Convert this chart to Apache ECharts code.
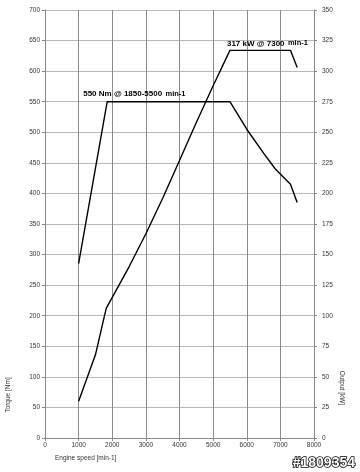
<!DOCTYPE html>
<html><head><meta charset="utf-8">
<script src="https://cdn.jsdelivr.net/npm/echarts@6/dist/echarts.min.js"></script>
<style>html,body{margin:0;padding:0;background:#fff}#c{width:360px;height:472px}</style>
</head><body><div id="c"></div>
<script>
var torqueRpm = [1000, 1850, 5500, 6000, 6500, 6850, 7300, 7500];
var torqueNm  = [285, 550, 550, 505, 466, 440, 415, 385];
var powerRpm  = [1000, 1500, 1820, 2500, 3000, 3500, 4000, 4500, 5000, 5500, 7300, 7500];
var powerKw   = [30, 68, 106, 140, 167, 196, 227, 258, 288, 317, 317, 303];
var torqueLabel = '550 Nm @ 1850-5500 min-1';
var powerLabel = '317 kW @ 7300 min-1';
var xTitle = 'Engine speed [min-1]';
var yLeftTitle = 'Torque [Nm]';
var yRightTitle = 'Output [kW]';
var watermark = '#1809354';

function zip(a, b) { return a.map(function (v, i) { return [v, b[i]]; }); }

var chart = echarts.init(document.getElementById('c'), null, {renderer: 'canvas'});
var font = 'Liberation Sans, Arial, sans-serif';
var lblStyle = {fontSize: 6.5, color: '#333', fontFamily: font, formatter: function (v) { return String(v); }};
chart.setOption({
  animation: false,
  grid: {left: 45, right: 46, top: 10, bottom: 34},
  xAxis: {
    type: 'value', min: 0, max: 8000, interval: 1000,
    axisLine: {lineStyle: {color: '#888', width: 1}},
    axisTick: {show: true, length: 3, lineStyle: {color: '#888'}},
    axisLabel: Object.assign({margin: 4}, lblStyle),
    splitLine: {show: true, lineStyle: {color: '#8a8a8a', width: 1}}
  },
  yAxis: [{
    type: 'value', min: 0, max: 700, interval: 50,
    axisLine: {show: true, lineStyle: {color: '#888', width: 1}},
    axisTick: {show: true, length: 3, lineStyle: {color: '#888'}},
    axisLabel: Object.assign({margin: 5}, lblStyle),
    splitLine: {show: true, lineStyle: {color: '#b8b8b8', width: 1.2}}
  }, {
    type: 'value', min: 0, max: 350, interval: 25, position: 'right',
    axisLine: {show: true, lineStyle: {color: '#888', width: 1}},
    axisTick: {show: true, length: 3, lineStyle: {color: '#888'}},
    axisLabel: Object.assign({margin: 8}, lblStyle),
    splitLine: {show: false}
  }],
  series: [{
    type: 'line', yAxisIndex: 0, data: zip(torqueRpm, torqueNm),
    symbol: 'none', lineStyle: {color: '#000', width: 1.4}
  }, {
    type: 'line', yAxisIndex: 1, data: zip(powerRpm, powerKw),
    symbol: 'none', lineStyle: {color: '#000', width: 1.4}
  }]
});

var pT = chart.convertToPixel({xAxisIndex: 0, yAxisIndex: 0}, [torqueRpm[1], torqueNm[1]]);
var pP = chart.convertToPixel({xAxisIndex: 0, yAxisIndex: 1}, [powerRpm[9], powerKw[9]]);
var rich = {
  b: {fontSize: 8, fontWeight: 'bold', fontFamily: font, color: '#000'},
  s: {fontSize: 7.5, fontWeight: 'bold', fontFamily: font, color: '#000'}
};
function ann(str, x, y) {
  var parts = str.split(' min-1');
  return {type: 'text', x: x, y: y, style: {
    text: '{b|' + parts[0] + '} {s|min-1}', rich: rich, verticalAlign: 'bottom', align: 'left'}};
}
chart.setOption({graphic: [
  ann(torqueLabel, pT[0] - 24, pT[1] - 2),
  ann(powerLabel, pP[0] - 3, pP[1] - 1),
  {type: 'text', x: 55, y: 458, style: {text: xTitle, fontSize: 6.5, fontFamily: font, fill: '#333', verticalAlign: 'middle'}},
  {type: 'text', x: 8, y: 395, rotation: Math.PI / 2, style: {text: yLeftTitle, fontSize: 6.5, fontFamily: font, fill: '#333', align: 'center', verticalAlign: 'middle'}},
  {type: 'text', x: 342, y: 388, rotation: -Math.PI / 2, style: {text: yRightTitle, fontSize: 6.5, fontFamily: font, fill: '#333', align: 'center', verticalAlign: 'middle'}},
  {type: 'text', x: 355, y: 463, style: {text: watermark, fontSize: 14, fontWeight: 'bold', fontFamily: font, fill: '#fff', stroke: '#000', lineWidth: 1.5, align: 'right', verticalAlign: 'middle'}}
]});
</script></body></html>
